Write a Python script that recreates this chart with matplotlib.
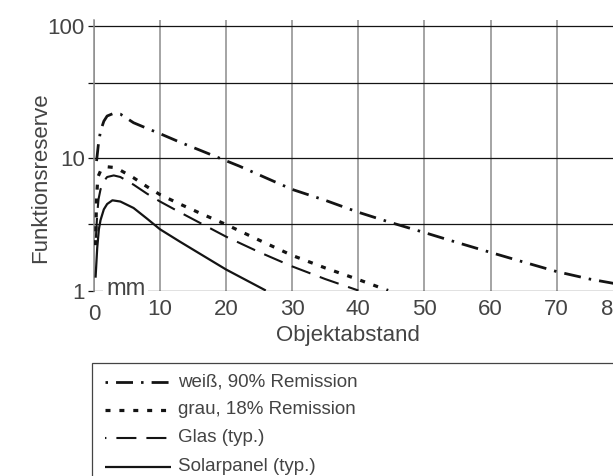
import matplotlib
matplotlib.use('Agg')
import matplotlib.pyplot as plt
from matplotlib.lines import Line2D
from matplotlib.patches import Rectangle
from matplotlib.transforms import ScaledTranslation

# Funktionsreserve vs. Objektabstand (mm)
weiss_x = [0.4, 0.7, 1.0, 1.5, 2, 3, 4, 6, 8, 10, 13, 16, 19, 22, 26, 30, 35, 40, 45, 50, 55, 60, 65, 70, 75, 80]
weiss_y = [9.5, 13, 16, 19, 20.8, 21.8, 21.5, 18.5, 16.8, 15.3, 13.2, 11.5, 10, 8.7, 7.1, 5.8, 4.8, 3.9, 3.25, 2.74, 2.3, 1.94, 1.64, 1.39, 1.22, 1.1]

grau_x = [0.25, 0.4, 0.6, 1, 1.5, 2, 3, 4, 6, 8, 10, 13, 16, 20, 25, 30, 35, 40, 44.5]
grau_y = [2.2, 5.0, 7.2, 8.0, 8.4, 8.6, 8.5, 8.1, 7.1, 6.1, 5.3, 4.5, 3.85, 3.15, 2.4, 1.84, 1.48, 1.21, 1.0]

glas_x = [0.3, 0.5, 0.7, 1, 1.5, 2, 3, 4, 6, 8, 10, 13, 16, 20, 25, 30, 35, 40]
glas_y = [2.5, 3.8, 4.9, 5.8, 6.7, 7.2, 7.4, 7.2, 6.3, 5.4, 4.7, 3.9, 3.25, 2.55, 1.95, 1.52, 1.22, 1.0]

solar_x = [0.25, 0.5, 0.75, 1, 1.5, 2, 2.8, 4, 6, 8, 10, 13, 16, 20, 23, 26]
solar_y = [1.25, 2.1, 2.9, 3.4, 4.1, 4.5, 4.8, 4.7, 4.2, 3.5, 2.9, 2.34, 1.9, 1.44, 1.2, 1.0]

labels = ['weiß, 90% Remission', 'grau, 18% Remission', 'Glas (typ.)', 'Solarpanel (typ.)']
xticks = [0, 10, 20, 30, 40, 50, 60, 70, 80]
yticks = [1, 3.2, 10, 37, 100]
ytick_labels = ['1', '', '10', '', '100']

plt.rcParams['font.family'] = ['Liberation Sans', 'DejaVu Sans']
plt.rcParams['lines.scale_dashes'] = False
TXT = '#444444'
INK = '#141414'

styles = [
    dict(lw=2.0, ls=(0, (12.2, 5.8, 1.8, 5.8)), leg_off=18.0),
    dict(lw=2.3, ls=(0, (3.6, 6.4)), leg_off=0.0),
    dict(lw=1.5, ls=(0, (14.4, 7.2)), leg_off=13.4),
    dict(lw=1.6, ls='-', leg_off=0.0),
]

fig = plt.figure(figsize=(6.13, 4.76), dpi=100)
ax = fig.add_axes([0.1532, 0.3897, 0.8627, 0.5683])
ax.set_yscale('log')
ax.set_xlim(0, 80)
ax.set_ylim(1, 110.5)

for xs, ys, st in zip([weiss_x, grau_x, glas_x, solar_x],
                      [weiss_y, grau_y, glas_y, solar_y], styles):
    ax.plot(xs, ys, color=INK, linewidth=st['lw'], linestyle=st['ls'],
            dash_capstyle='butt', solid_capstyle='butt', zorder=3)

ax.set_axisbelow(True)
for s in ['top', 'right', 'bottom']:
    ax.spines[s].set_visible(False)
ax.spines['left'].set_color('#8c8c8c')
ax.spines['left'].set_linewidth(1.1)

ax.set_xticks(xticks)
ax.set_xticklabels([str(t) for t in xticks])
ax.xaxis.grid(True, color='#8c8c8c', linewidth=1.1)
ax.tick_params(axis='x', length=0, pad=6, labelsize=16, labelcolor=TXT)

ax.yaxis.set_minor_locator(matplotlib.ticker.NullLocator())
ax.set_yticks(yticks)
ax.set_yticklabels(ytick_labels)
ax.yaxis.grid(True, color=INK, linewidth=0.9)
ax.tick_params(axis='y', length=4, width=0.9, color=INK, pad=2.5,
               labelsize=16, labelcolor=TXT)

# shift the first and last x labels as in the reference
xl = ax.get_xticklabels()
xl[0].set_transform(xl[0].get_transform() + ScaledTranslation(0, -0.05, fig.dpi_scale_trans))
xl[-1].set_transform(xl[-1].get_transform() + ScaledTranslation(-0.09, 0, fig.dpi_scale_trans))

ax.text(1.83, 0.925, 'mm', fontsize=17, color=TXT, ha='left', va='baseline',
        bbox=dict(facecolor='white', edgecolor='none', pad=2), zorder=4, clip_on=False)

ax.set_xlabel('Objektabstand', fontsize=16, color=TXT, va='top')
ax.xaxis.set_label_coords(0.481, -0.1275)
ax.set_ylabel('Funktionsreserve', fontsize=16, color=TXT, va='center')
ax.yaxis.set_label_coords(-0.100, 0.416)

# legend box, running off the bottom and right edge
W, H = 613.0, 476.0
fig.add_artist(Rectangle((91.7 / W, -0.2), 1.0, 1 - 363.3 / H + 0.2,
                         transform=fig.transFigure, facecolor='none',
                         edgecolor='#444444', linewidth=0.9))
rows = [381.7, 410, 437.7, 466.7]
for lab, st, py in zip(labels, styles, rows):
    fy = 1 - py / H
    ls = st['ls']
    if ls != '-':
        ls = (st['leg_off'], ls[1])
    fig.add_artist(Line2D([105 / W, 170.5 / W], [fy, fy], transform=fig.transFigure,
                          color=INK, linewidth=st['lw'], linestyle=ls,
                          dash_capstyle='butt', solid_capstyle='butt'))
    fig.text(178 / W, fy, lab, fontsize=13.5, color=TXT, ha='left', va='center')

fig.savefig('out.png', dpi=100)
